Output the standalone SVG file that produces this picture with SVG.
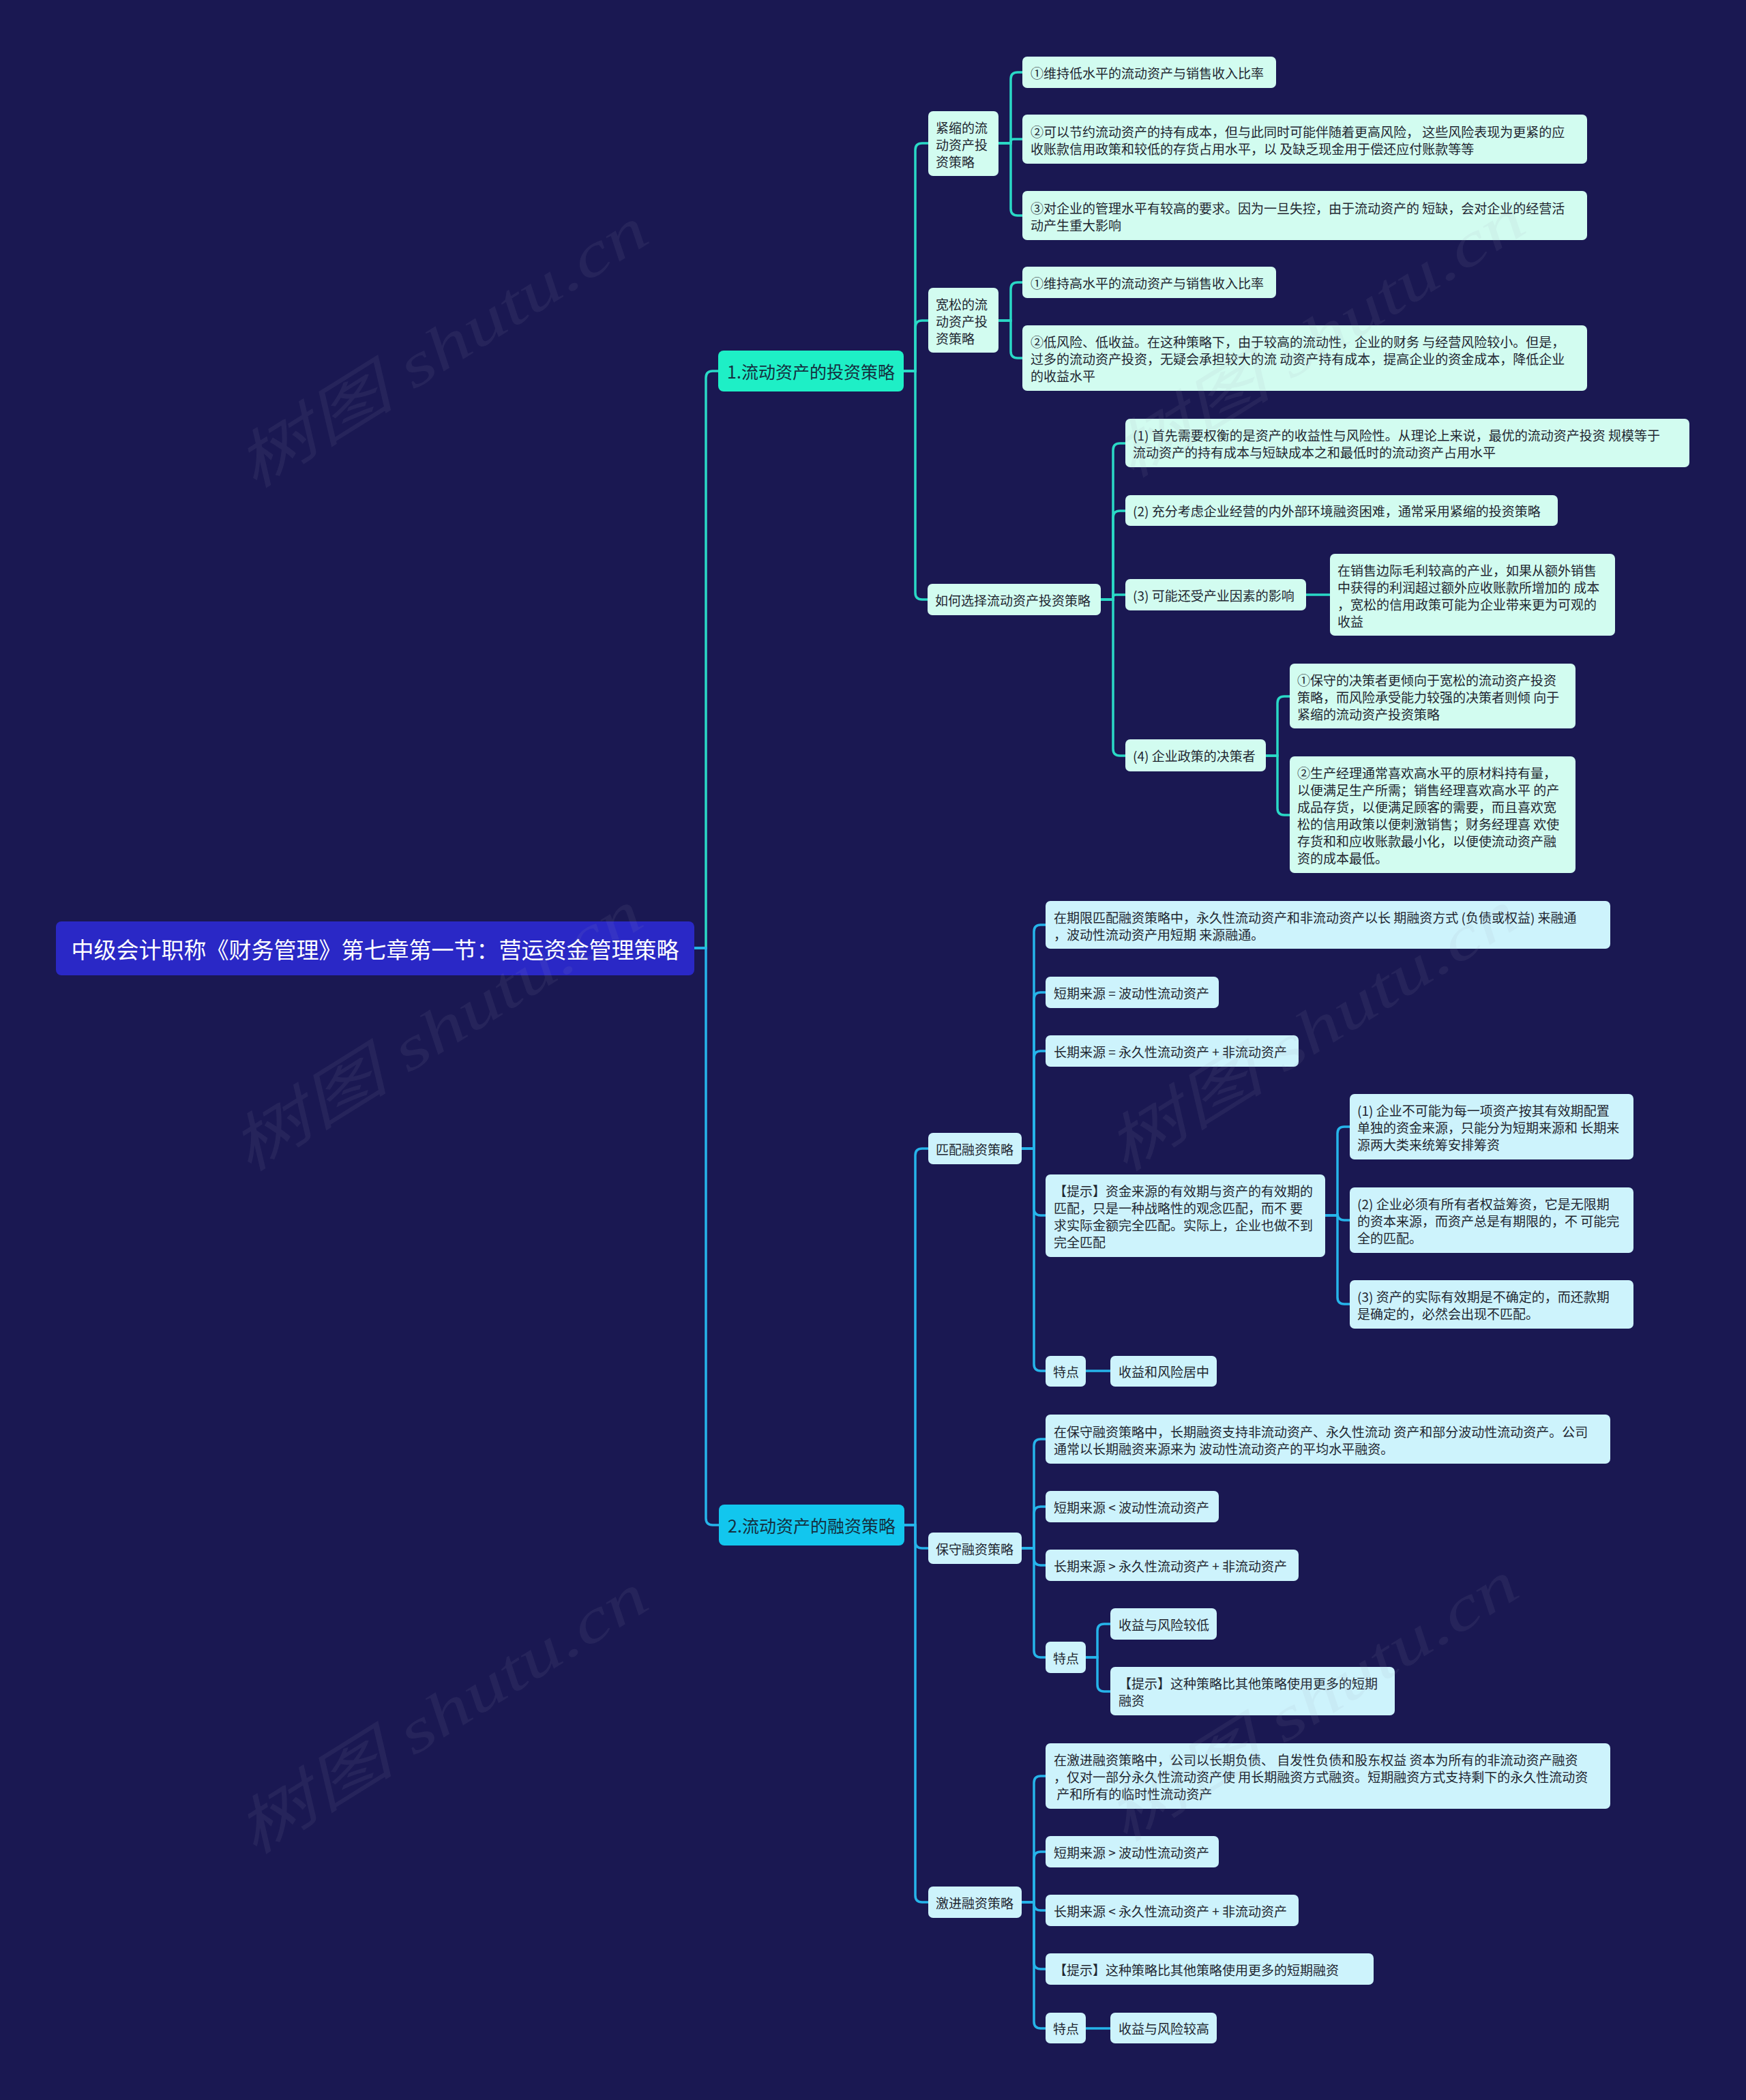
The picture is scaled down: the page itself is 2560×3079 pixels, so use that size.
<svg xmlns="http://www.w3.org/2000/svg" width="2560" height="3079" viewBox="0 0 2560 3079">
<style>
.bg{fill:#1a1852}
text{font-family:'Noto Sans CJK SC','Noto Sans',sans-serif;dominant-baseline:central}
.t{font-size:19px;fill:#1f2630}
.l1{font-size:25px;fill:#143040;text-anchor:middle}
.rt{font-size:33px;fill:#ffffff;text-anchor:middle}
.na{fill:#d2fcf0}
.nb{fill:#cdf3fc}
.ca{fill:none;stroke:#2ad9c6;stroke-width:3.5}
.cb{fill:none;stroke:#26b4ea;stroke-width:3.5}
.wm{font-family:'Liberation Serif','Noto Sans CJK SC',serif;font-style:italic;font-size:90px;fill:#a0a0b8;opacity:0.09}
</style>
<rect class="bg" x="0" y="0" width="2560" height="3079"/>

<g id="connectors">
<path class="ca" d="M1018 1390 H1035 V554 Q1035 544 1045 544 H1053"/>
<path class="cb" d="M1018 1390 H1035 V2226 Q1035 2236 1045 2236 H1054"/>
<path class="ca" d="M1325 544 H1342 V220 Q1342 210 1352 210 H1361"/>
<path class="ca" d="M1325 544 H1342 V480 Q1342 470 1352 470 H1361"/>
<path class="ca" d="M1325 544 H1342 V869 Q1342 879 1352 879 H1360"/>
<path class="ca" d="M1464 210 H1482 V116 Q1482 106 1492 106 H1499"/>
<path class="ca" d="M1464 210 H1482 V208 Q1482 204 1486 204 H1499"/>
<path class="ca" d="M1464 210 H1482 V306 Q1482 316 1492 316 H1499"/>
<path class="ca" d="M1464 470 H1482 V424 Q1482 414 1492 414 H1499"/>
<path class="ca" d="M1464 470 H1482 V515 Q1482 525 1492 525 H1499"/>
<path class="ca" d="M1614 879 H1632 V660 Q1632 650 1642 650 H1650"/>
<path class="ca" d="M1614 879 H1632 V759 Q1632 749 1642 749 H1650"/>
<path class="ca" d="M1614 879 H1632 V876 Q1632 872 1636 872 H1650"/>
<path class="ca" d="M1614 879 H1632 V1098 Q1632 1108 1642 1108 H1650"/>
<path class="ca" d="M1915 872 H1950"/>
<path class="ca" d="M1856 1108 H1873 V1031 Q1873 1021 1883 1021 H1891"/>
<path class="ca" d="M1856 1108 H1873 V1185 Q1873 1195 1883 1195 H1891"/>

<path class="cb" d="M1326 2236 H1342 V1694 Q1342 1684 1352 1684 H1361"/>
<path class="cb" d="M1326 2236 H1342 V2260 Q1342 2270 1352 2270 H1361"/>
<path class="cb" d="M1326 2236 H1342 V2779 Q1342 2789 1352 2789 H1361"/>
<path class="cb" d="M1498 1684 H1516 V1366 Q1516 1356 1526 1356 H1533"/>
<path class="cb" d="M1498 1684 H1516 V1465 Q1516 1455 1526 1455 H1533"/>
<path class="cb" d="M1498 1684 H1516 V1551 Q1516 1541 1526 1541 H1533"/>
<path class="cb" d="M1498 1684 H1516 V1772 Q1516 1782 1526 1782 H1533"/>
<path class="cb" d="M1498 1684 H1516 V2000 Q1516 2010 1526 2010 H1533"/>
<path class="cb" d="M1943 1782 H1961 V1662 Q1961 1652 1971 1652 H1979"/>
<path class="cb" d="M1943 1782 H1961 V1779 Q1961 1789 1971 1789 H1979"/>
<path class="cb" d="M1943 1782 H1961 V1902 Q1961 1912 1971 1912 H1979"/>
<path class="cb" d="M1592 2010 H1628"/>
<path class="cb" d="M1498 2270 H1516 V2120 Q1516 2110 1526 2110 H1533"/>
<path class="cb" d="M1498 2270 H1516 V2219 Q1516 2209 1526 2209 H1533"/>
<path class="cb" d="M1498 2270 H1516 V2285 Q1516 2295 1526 2295 H1533"/>
<path class="cb" d="M1498 2270 H1516 V2420 Q1516 2430 1526 2430 H1533"/>
<path class="cb" d="M1592 2430 H1609 V2391 Q1609 2381 1619 2381 H1628"/>
<path class="cb" d="M1592 2430 H1609 V2470 Q1609 2480 1619 2480 H1628"/>
<path class="cb" d="M1498 2789 H1516 V2614 Q1516 2604 1526 2604 H1533"/>
<path class="cb" d="M1498 2789 H1516 V2725 Q1516 2715 1526 2715 H1533"/>
<path class="cb" d="M1498 2789 H1516 V2791 Q1516 2801 1526 2801 H1533"/>
<path class="cb" d="M1498 2789 H1516 V2877 Q1516 2887 1526 2887 H1533"/>
<path class="cb" d="M1498 2789 H1516 V2964 Q1516 2974 1526 2974 H1533"/>
<path class="cb" d="M1592 2974 H1628"/>
</g>

<g id="root"><rect x="82" y="1351" width="936" height="79" rx="8" fill="#2a28c6"/><text class="rt" x="550" y="1390.5">中级会计职称《财务管理》第七章第一节：营运资金管理策略</text></g>

<g id="n1"><rect x="1053" y="514" width="272" height="60" rx="8" fill="#1eefc6"/><text class="l1" x="1189" y="544">1.流动资产的投资策略</text></g>
<g id="n2"><rect x="1054" y="2206" width="272" height="60" rx="8" fill="#12c6ee"/><text class="l1" x="1190" y="2236">2.流动资产的融资策略</text></g>

<g id="n1-1"><rect class="na" x="1361" y="163" width="103" height="95" rx="7"/><text class="t"><tspan x="1372" y="185.5">紧缩的流</tspan><tspan x="1372" y="210.5">动资产投</tspan><tspan x="1372" y="235.5">资策略</tspan></text></g>
<g id="n1-1-1"><rect class="na" x="1499" y="83" width="372" height="46" rx="7"/><text class="t" x="1511" y="106">①维持低水平的流动资产与销售收入比率</text></g>
<g id="n1-1-2"><rect class="na" x="1499" y="168" width="828" height="72" rx="7"/><text class="t"><tspan x="1511" y="191.5">②可以节约流动资产的持有成本，但与此同时可能伴随着更高风险， 这些风险表现为更紧的应</tspan><tspan x="1511" y="216.5">收账款信用政策和较低的存货占用水平，以 及缺乏现金用于偿还应付账款等等</tspan></text></g>
<g id="n1-1-3"><rect class="na" x="1499" y="280" width="828" height="72" rx="7"/><text class="t"><tspan x="1511" y="303.5">③对企业的管理水平有较高的要求。因为一旦失控，由于流动资产的 短缺，会对企业的经营活</tspan><tspan x="1511" y="328.5">动产生重大影响</tspan></text></g>

<g id="n1-2"><rect class="na" x="1361" y="422" width="103" height="95" rx="7"/><text class="t"><tspan x="1372" y="444.5">宽松的流</tspan><tspan x="1372" y="469.5">动资产投</tspan><tspan x="1372" y="494.5">资策略</tspan></text></g>
<g id="n1-2-1"><rect class="na" x="1499" y="391" width="372" height="46" rx="7"/><text class="t" x="1511" y="414">①维持高水平的流动资产与销售收入比率</text></g>
<g id="n1-2-2"><rect class="na" x="1499" y="477" width="828" height="96" rx="7"/><text class="t"><tspan x="1511" y="500">②低风险、低收益。在这种策略下，由于较高的流动性，企业的财务 与经营风险较小。但是，</tspan><tspan x="1511" y="525">过多的流动资产投资，无疑会承担较大的流 动资产持有成本，提高企业的资金成本，降低企业</tspan><tspan x="1511" y="550">的收益水平</tspan></text></g>

<g id="n1-3"><rect class="na" x="1360" y="856" width="254" height="46" rx="7"/><text class="t" x="1371" y="879">如何选择流动资产投资策略</text></g>
<g id="n1-3-1"><rect class="na" x="1650" y="614" width="827" height="71" rx="7"/><text class="t"><tspan x="1661" y="637">(1) 首先需要权衡的是资产的收益性与风险性。从理论上来说，最优的流动资产投资 规模等于</tspan><tspan x="1661" y="662">流动资产的持有成本与短缺成本之和最低时的流动资产占用水平</tspan></text></g>
<g id="n1-3-2"><rect class="na" x="1650" y="726" width="634" height="45" rx="7"/><text class="t" x="1661" y="748.5">(2) 充分考虑企业经营的内外部环境融资困难，通常采用紧缩的投资策略</text></g>
<g id="n1-3-3"><rect class="na" x="1650" y="849" width="265" height="46" rx="7"/><text class="t" x="1661" y="872">(3) 可能还受产业因素的影响</text></g>
<g id="n1-3-3-1"><rect class="na" x="1950" y="812" width="418" height="120" rx="7"/><text class="t"><tspan x="1961" y="834.5">在销售边际毛利较高的产业，如果从额外销售</tspan><tspan x="1961" y="859.5">中获得的利润超过额外应收账款所增加的 成本</tspan><tspan x="1961" y="884.5">，宽松的信用政策可能为企业带来更为可观的</tspan><tspan x="1961" y="909.5">收益</tspan></text></g>
<g id="n1-3-4"><rect class="na" x="1650" y="1084" width="206" height="47" rx="7"/><text class="t" x="1661" y="1107.5">(4) 企业政策的决策者</text></g>
<g id="n1-3-4-1"><rect class="na" x="1891" y="973" width="419" height="95" rx="7"/><text class="t"><tspan x="1902" y="995.5">①保守的决策者更倾向于宽松的流动资产投资</tspan><tspan x="1902" y="1020.5">策略，而风险承受能力较强的决策者则倾 向于</tspan><tspan x="1902" y="1045.5">紧缩的流动资产投资策略</tspan></text></g>
<g id="n1-3-4-2"><rect class="na" x="1891" y="1109" width="419" height="171" rx="7"/><text class="t"><tspan x="1902" y="1132">②生产经理通常喜欢高水平的原材料持有量，</tspan><tspan x="1902" y="1157">以便满足生产所需；销售经理喜欢高水平 的产</tspan><tspan x="1902" y="1182">成品存货，以便满足顾客的需要，而且喜欢宽</tspan><tspan x="1902" y="1207">松的信用政策以便刺激销售；财务经理喜 欢使</tspan><tspan x="1902" y="1232">存货和和应收账款最小化，以便使流动资产融</tspan><tspan x="1902" y="1257">资的成本最低。</tspan></text></g>

<g id="n2-1"><rect class="nb" x="1361" y="1661" width="137" height="46" rx="7"/><text class="t" x="1372" y="1684">匹配融资策略</text></g>
<g id="n2-1-1"><rect class="nb" x="1533" y="1321" width="828" height="70" rx="7"/><text class="t"><tspan x="1545" y="1343.5">在期限匹配融资策略中，永久性流动资产和非流动资产以长 期融资方式 (负债或权益) 来融通</tspan><tspan x="1545" y="1368.5">，波动性流动资产用短期 来源融通。</tspan></text></g>
<g id="n2-1-2"><rect class="nb" x="1533" y="1432" width="254" height="46" rx="7"/><text class="t" x="1545" y="1455">短期来源 = 波动性流动资产</text></g>
<g id="n2-1-3"><rect class="nb" x="1533" y="1518" width="371" height="46" rx="7"/><text class="t" x="1545" y="1541">长期来源 = 永久性流动资产 + 非流动资产</text></g>
<g id="n2-1-4"><rect class="nb" x="1533" y="1722" width="410" height="121" rx="7"/><text class="t"><tspan x="1545" y="1745">【提示】资金来源的有效期与资产的有效期的</tspan><tspan x="1545" y="1770">匹配，只是一种战略性的观念匹配，而不 要</tspan><tspan x="1545" y="1795">求实际金额完全匹配。实际上，企业也做不到</tspan><tspan x="1545" y="1820">完全匹配</tspan></text></g>
<g id="n2-1-4-1"><rect class="nb" x="1979" y="1604" width="416" height="96" rx="7"/><text class="t"><tspan x="1990" y="1627">(1) 企业不可能为每一项资产按其有效期配置</tspan><tspan x="1990" y="1652">单独的资金来源，只能分为短期来源和 长期来</tspan><tspan x="1990" y="1677">源两大类来统筹安排筹资</tspan></text></g>
<g id="n2-1-4-2"><rect class="nb" x="1979" y="1741" width="416" height="96" rx="7"/><text class="t"><tspan x="1990" y="1764">(2) 企业必须有所有者权益筹资，它是无限期</tspan><tspan x="1990" y="1789">的资本来源，而资产总是有期限的，不 可能完</tspan><tspan x="1990" y="1814">全的匹配。</tspan></text></g>
<g id="n2-1-4-3"><rect class="nb" x="1979" y="1877" width="416" height="71" rx="7"/><text class="t"><tspan x="1990" y="1900">(3) 资产的实际有效期是不确定的，而还款期</tspan><tspan x="1990" y="1925">是确定的，必然会出现不匹配。</tspan></text></g>
<g id="n2-1-5"><rect class="nb" x="1533" y="1988" width="59" height="45" rx="7"/><text class="t" x="1544" y="2010.5">特点</text></g>
<g id="n2-1-5-1"><rect class="nb" x="1628" y="1988" width="156" height="45" rx="7"/><text class="t" x="1640" y="2010.5">收益和风险居中</text></g>

<g id="n2-2"><rect class="nb" x="1361" y="2247" width="137" height="46" rx="7"/><text class="t" x="1372" y="2270">保守融资策略</text></g>
<g id="n2-2-1"><rect class="nb" x="1533" y="2074" width="828" height="72" rx="7"/><text class="t"><tspan x="1545" y="2097.5">在保守融资策略中，长期融资支持非流动资产、永久性流动 资产和部分波动性流动资产。公司</tspan><tspan x="1545" y="2122.5">通常以长期融资来源来为 波动性流动资产的平均水平融资。</tspan></text></g>
<g id="n2-2-2"><rect class="nb" x="1533" y="2186" width="254" height="46" rx="7"/><text class="t" x="1545" y="2209">短期来源 &lt; 波动性流动资产</text></g>
<g id="n2-2-3"><rect class="nb" x="1533" y="2272" width="371" height="46" rx="7"/><text class="t" x="1545" y="2295">长期来源 &gt; 永久性流动资产 + 非流动资产</text></g>
<g id="n2-2-4"><rect class="nb" x="1533" y="2407" width="59" height="46" rx="7"/><text class="t" x="1544" y="2430">特点</text></g>
<g id="n2-2-4-1"><rect class="nb" x="1628" y="2358" width="156" height="46" rx="7"/><text class="t" x="1640" y="2381">收益与风险较低</text></g>
<g id="n2-2-4-2"><rect class="nb" x="1628" y="2444" width="417" height="71" rx="7"/><text class="t"><tspan x="1640" y="2467">【提示】这种策略比其他策略使用更多的短期</tspan><tspan x="1640" y="2492">融资</tspan></text></g>

<g id="n2-3"><rect class="nb" x="1361" y="2766" width="137" height="46" rx="7"/><text class="t" x="1372" y="2789">激进融资策略</text></g>
<g id="n2-3-1"><rect class="nb" x="1533" y="2556" width="828" height="96" rx="7"/><text class="t" xml:space="preserve"><tspan x="1545" y="2579">在激进融资策略中，公司以长期负债、 自发性负债和股东权益 资本为所有的非流动资产融资</tspan><tspan x="1545" y="2604">，仅对一部分永久性流动资产使 用长期融资方式融资。短期融资方式支持剩下的永久性流动资</tspan><tspan x="1545" y="2629"> 产和所有的临时性流动资产</tspan></text></g>
<g id="n2-3-2"><rect class="nb" x="1533" y="2692" width="254" height="46" rx="7"/><text class="t" x="1545" y="2715">短期来源 &gt; 波动性流动资产</text></g>
<g id="n2-3-3"><rect class="nb" x="1533" y="2778" width="371" height="46" rx="7"/><text class="t" x="1545" y="2801">长期来源 &lt; 永久性流动资产 + 非流动资产</text></g>
<g id="n2-3-4"><rect class="nb" x="1533" y="2864" width="481" height="46" rx="7"/><text class="t" x="1545" y="2887">【提示】这种策略比其他策略使用更多的短期融资</text></g>
<g id="n2-3-5"><rect class="nb" x="1533" y="2951" width="59" height="45" rx="7"/><text class="t" x="1544" y="2973.5">特点</text></g>
<g id="n2-3-5-1"><rect class="nb" x="1628" y="2951" width="156" height="45" rx="7"/><text class="t" x="1640" y="2973.5">收益与风险较高</text></g>

<g id="watermarks">
<text class="wm" text-anchor="middle" textLength="690" lengthAdjust="spacingAndGlyphs" transform="translate(648 510) rotate(-32)">树图 shutu.cn</text>
<text class="wm" text-anchor="middle" textLength="690" lengthAdjust="spacingAndGlyphs" transform="translate(1934 495) rotate(-32)">树图 shutu.cn</text>
<text class="wm" text-anchor="middle" textLength="690" lengthAdjust="spacingAndGlyphs" transform="translate(640 1512) rotate(-32)">树图 shutu.cn</text>
<text class="wm" text-anchor="middle" textLength="690" lengthAdjust="spacingAndGlyphs" transform="translate(1924 1512) rotate(-32)">树图 shutu.cn</text>
<text class="wm" text-anchor="middle" textLength="690" lengthAdjust="spacingAndGlyphs" transform="translate(648 2513) rotate(-32)">树图 shutu.cn</text>
<text class="wm" text-anchor="middle" textLength="690" lengthAdjust="spacingAndGlyphs" transform="translate(1924 2495) rotate(-32)">树图 shutu.cn</text>
</g>
</svg>
